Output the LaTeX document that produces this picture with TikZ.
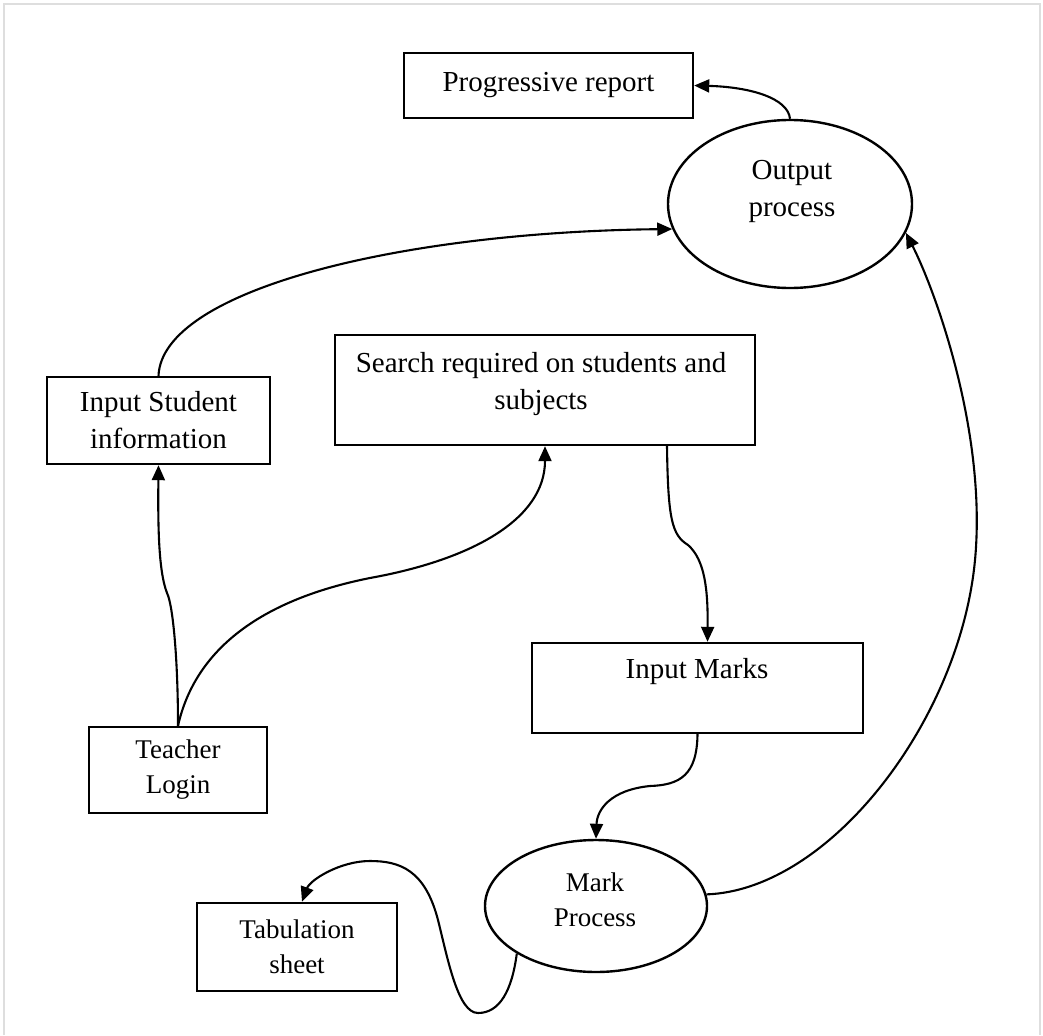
\documentclass[tikz,border=0pt]{standalone}
\usepackage{fontspec}
\setmainfont{Liberation Serif}
\usetikzlibrary{arrows.meta,shapes.geometric,calc}
\begin{document}
\begin{tikzpicture}[x=1pt,y=-1pt,
  box/.style={draw, line width=2.4pt, inner sep=0pt, align=center, font=\fontsize{29}{37}\selectfont},
  boxs/.style={box, font=\fontsize{27}{35}\selectfont},
  oval/.style={draw, ellipse, line width=2.4pt, inner sep=0pt},
  lbl/.style={align=center, font=\fontsize{29}{37}\selectfont, inner sep=0pt},
  lbls/.style={align=center, font=\fontsize{27}{35}\selectfont, inner sep=0pt},
  conn/.style={line width=2.1pt, -{Triangle[length=15pt,width=13pt]}},
  framestyle/.style={draw=black!13, line width=2.5pt}]
\useasboundingbox (0,0) rectangle (1043,1035);
\draw[framestyle] (4,1035) -- (4,4) -- (1040,4) -- (1040,1035);

% nodes
\node[box, minimum width=289, minimum height=65] (prog) at (548.5,85.5) {Progressive report};
\node[oval, minimum width=244, minimum height=168] (out) at (790,204) {};
\node[lbl] (outT) at (792,191) {Output\\process};
\node[box, minimum width=223, minimum height=87] (stu) at (158.5,420.5) {Input Student\\information};
\node[box, minimum width=420, minimum height=110] (search) at (545,390) {};
\node[lbl] (searchT) at (541,384) {Search required on students and\\subjects};
\node[box, minimum width=331, minimum height=90] (marks) at (697.5,688) {};
\node[lbl] (marksT) at (697,672) {Input Marks};
\node[boxs, minimum width=178, minimum height=86] (teach) at (178,770) {Teacher\\Login};
\node[oval, minimum width=222, minimum height=132] (mark) at (596,906) {};
\node[lbls] (markT) at (595,900) {Mark\\Process};
\node[boxs, minimum width=200, minimum height=88] (tab) at (297,947) {Tabulation\\sheet};

% connectors
\draw[conn] (out.north) .. controls (788,98) and (750,87) .. (prog.east);
\draw[conn] (stu.north) .. controls (162,290) and (400,232) .. (out.192);
\draw[conn] (mark.6) .. controls (830,890) and (960,720) .. (975,560)
  .. controls (987,432) and (935,290) .. (out.-14);
\draw[conn] ([xshift=122pt]search.south) .. controls (668,520) and (672,535) .. (688,545)
  .. controls (705,560) and (708,590) .. ([xshift=10pt]marks.north);
\draw[conn] (teach.north) .. controls (178,660) and (173,605) .. (167,593)
  .. controls (158,570) and (158,520) .. (stu.south);
\draw[conn] (teach.north) .. controls (195,650) and (260,600) .. (370,578)
  .. controls (470,560) and (545,520) .. (search.south);
\draw[conn] (marks.south) .. controls (697,775) and (680,785) .. (650,786)
  .. controls (610,790) and (597,810) .. (mark.north);
\draw[conn] (mark.211) .. controls (512,990) and (500,1013) .. (478,1013)
  .. controls (458,1013) and (448,960) .. (438,920)
  .. controls (425,870) and (400,861) .. (370,861)
  .. controls (340,861) and (310,880) .. ([xshift=5pt]tab.north);
\end{tikzpicture}
\end{document}
